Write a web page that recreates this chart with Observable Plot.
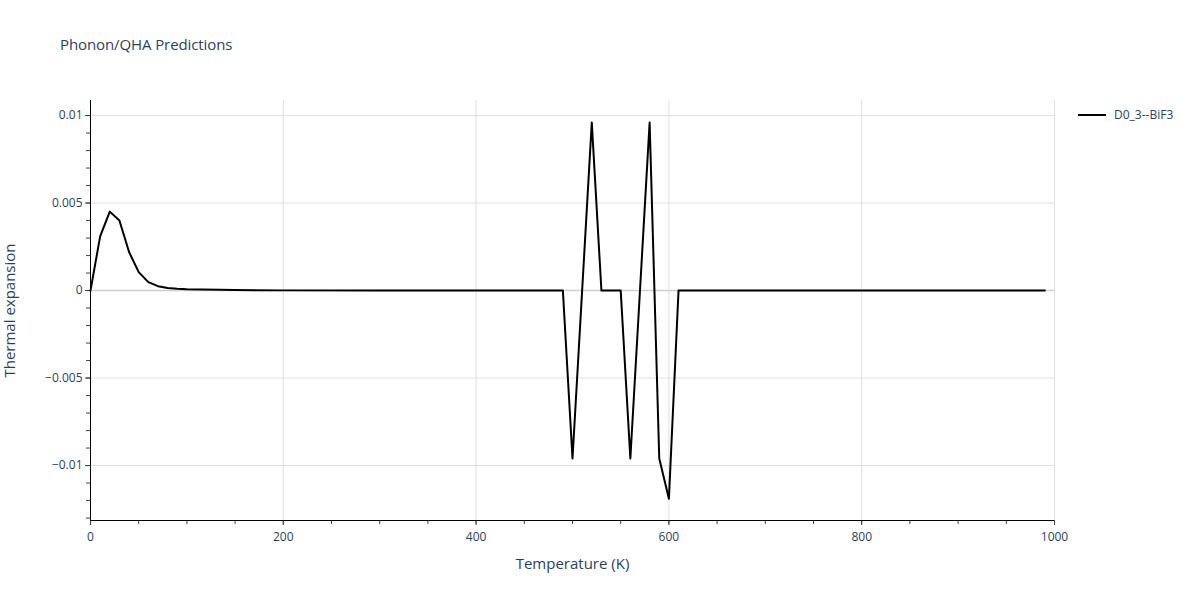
<!DOCTYPE html>
<html>
<head>
<meta charset="utf-8">
<script src="https://cdn.jsdelivr.net/npm/d3@7"></script>
<script src="https://cdn.jsdelivr.net/npm/@observablehq/plot@0.6"></script>
<style>
  body { margin: 0; background: #fff; font-family: "Open Sans", sans-serif; }
  #wrap { position: relative; width: 1200px; height: 600px; }
  #title { position: absolute; left: 60px; top: 34px; font-size: 15px; color: #2a3f5f; letter-spacing: -0.1px; }
  #legend { position: absolute; left: 1078px; top: 106px; font-size: 12px; color: #2a3f5f; display: flex; align-items: center; }
  #legend .sw { width: 28px; height: 0; border-top: 2px solid #000; margin-right: 8px; }
  #chart { position: absolute; left: 0; top: 0; }
</style>
</head>
<body>
<div id="wrap">
  <div id="chart"></div>
  <div id="title">Phonon/QHA Predictions</div>
  <div id="legend"><span class="sw"></span><span id="seriesName"></span></div>
</div>
<script>
const seriesName = "D0_3--BiF3";
const temperature = [0, 10, 20, 30, 40, 50, 60, 70, 80, 90, 100, 150, 200, 300, 400, 480,
  490, 500, 510, 520, 530, 540, 550, 560, 570, 580, 590, 600, 610, 700, 800, 900, 990];
const expansion = [0, 0.0031, 0.00451, 0.004, 0.0022, 0.00105, 0.00048, 0.00025, 0.00015, 0.0001, 0.00007, 0.00003, 0.00001, 0.000005, 0.000003, 0.000002,
  0, -0.0096, 0, 0.0096, 0, 0, 0, -0.0096, 0, 0.0096, -0.0096, -0.0119, 0, 0, 0, 0, 0];
const xMajor = [0, 200, 400, 600, 800, 1000];
const yMajor = [-0.01, -0.005, 0, 0.005, 0.01];
const xMinor = d3.range(0, 1001, 50);
const yMinor = d3.range(-13, 11).map(i => i / 1000);

document.getElementById("seriesName").textContent = seriesName;

const data = temperature.map((t, i) => ({t, v: expansion[i]}));
const fmt = d => d === 0 ? "0" : String(+d.toFixed(3)).replace("-", "\u2212");
const tickColor = "#2a3f5f";

const chart = Plot.plot({
  width: 1200,
  height: 600,
  marginLeft: 90,
  marginRight: 146,
  marginTop: 100,
  marginBottom: 80,
  style: {fontFamily: "'Open Sans', sans-serif", fontSize: "12px", color: tickColor, background: "transparent"},
  x: {domain: [0, 1000]},
  y: {domain: [-0.01314, 0.01086]},
  marks: [
    Plot.gridX(xMajor, {stroke: "#e0e0e0", strokeOpacity: 1}),
    Plot.gridY(yMajor, {stroke: "#e0e0e0", strokeOpacity: 1}),
    Plot.ruleY([0], {stroke: "#d0d0d0", strokeWidth: 1.5}),
    Plot.axisX(xMinor, {tickSize: 4, text: null, label: null, stroke: "#444"}),
    Plot.axisX(xMajor, {tickSize: 5, tickPadding: 7, tickFormat: d => String(d), label: null, fill: tickColor, stroke: "#444"}),
    Plot.axisY(yMinor, {tickSize: 4, text: null, label: null, stroke: "#444"}),
    Plot.axisY(yMajor, {tickSize: 5, tickPadding: 3, tickFormat: fmt, label: null, fill: tickColor, stroke: "#444"}),
    Plot.ruleX([0], {stroke: "#000", strokeWidth: 1}),
    Plot.ruleY([-0.01314], {stroke: "#000", strokeWidth: 1}),
    Plot.line(data, {x: "t", y: "v", stroke: "#000", strokeWidth: 2}),
    Plot.text(["Temperature (K)"], {frameAnchor: "bottom", dy: 48, fontSize: 15, fill: tickColor}),
    Plot.text(["Thermal expansion"], {frameAnchor: "left", textAnchor: "middle", dx: -80, rotate: -90, fontSize: 15, fill: tickColor})
  ]
});
document.getElementById("chart").appendChild(chart);
</script>
</body>
</html>
